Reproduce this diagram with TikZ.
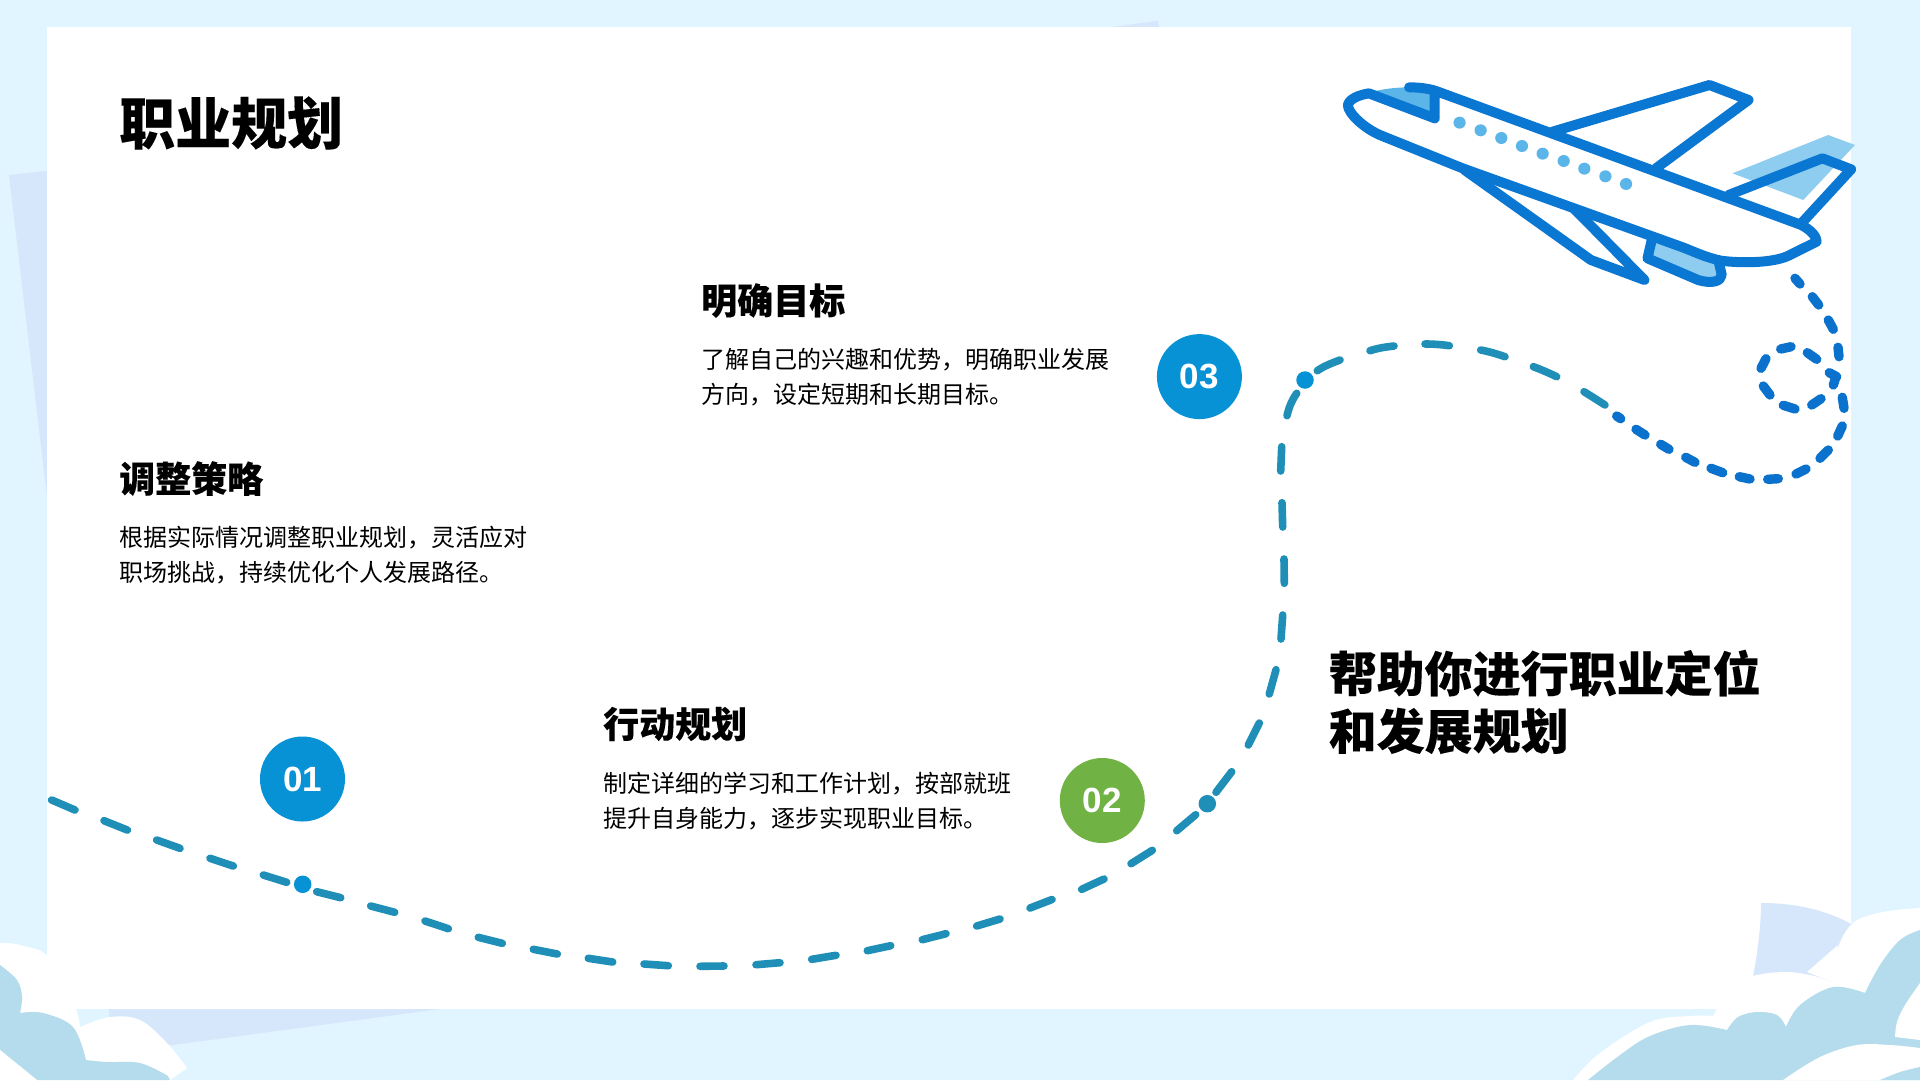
\documentclass[tikz,border=0pt]{standalone}
\usepackage{fontspec}
\setmainfont{Noto Sans CJK SC}[BoldFeatures={FakeBold=0.15}]
\newfontfamily\numfont{Liberation Sans}
\definecolor{pagebg}{HTML}{E0F5FF}
\definecolor{lav}{HTML}{D6E6FB}
\definecolor{cloudblue}{HTML}{B4DCEC}
\definecolor{teal}{HTML}{1F8FB8}
\definecolor{trailblue}{HTML}{0A72CC}
\definecolor{planeblue}{HTML}{0A77D3}
\definecolor{planelight}{HTML}{8FCDF0}
\definecolor{winblue}{HTML}{5BB5E8}
\definecolor{badgeblue}{HTML}{0892D6}
\definecolor{badgegreen}{HTML}{70B244}
\tikzset{
  badge/.style={circle,minimum size=85pt,inner sep=0pt,text=white,font=\numfont\bfseries\fontsize{35}{35}\selectfont},
  waydot/.style={circle,minimum size=17.5pt,inner sep=0pt},
  titletext/.style={anchor=west,inner sep=0pt,font=\bfseries\fontsize{56}{60}\selectfont},
  headtext/.style={anchor=west,inner sep=0pt,font=\bfseries\fontsize{36}{40}\selectfont},
  bodytext/.style={anchor=west,inner sep=0pt,align=left,font=\fontsize{24}{34.8}\selectfont},
  bigtext/.style={anchor=west,inner sep=0pt,align=left,font=\bfseries\fontsize{48}{57.5}\selectfont},
  tealdash/.style={draw=teal,line width=7.6pt,line cap=round},
  bluedash/.style={draw=trailblue,line width=9.4pt,line cap=round},
  planeline/.style={draw=planeblue,line width=10pt,line join=round,line cap=round}
}
\begin{document}
\begin{tikzpicture}[x=1pt,y=-1pt]
\useasboundingbox (0,0) rectangle (1920,1080);
\clip (0,0) rectangle (1920,1080);
\fill[pagebg] (0,0) rectangle (1920,1080);
% lavender sheets behind the card
\fill[lav] (9,175) -- (47,171) -- (47,497) -- cycle;
\fill[lav] (1112,27) -- (1158,20.7) -- (1159,27) -- cycle;
\fill[lav] (109,1009) -- (440,1009) -- (173,1045) -- (109,1045) -- cycle;
% card
\fill[white] (47,27) rectangle (1851,1009);
\fill[lav] (1761,903) .. controls (1800,903) and (1830,912) .. (1853,925) -- (1840,960) -- (1832,982) -- (1783,980) -- (1753,977) .. controls (1758,950) and (1761,925) .. cycle;
% right cloud
\fill[white] plot[smooth,tension=.6] coordinates {(1573,1080) (1600,1053) (1650,1022) (1690,1016) (1713,1016)}
  -- plot[smooth,tension=.6] coordinates {(1713,1016) (1727,993) (1750,977) (1783,972) (1810,975) (1832,982)}
  -- plot[smooth,tension=.6] coordinates {(1832,982) (1837,950) (1853,923) (1883,912) (1920,908)}
  -- (1920,1080) -- cycle;
\fill[white] (1807,972) -- (1838,945) -- (1832,982) -- cycle;
\fill[cloudblue] plot[smooth,tension=.6] coordinates {(1588,1080) (1620,1055) (1650,1036) (1690,1025) (1727,1030)}
  -- plot[smooth,tension=.6] coordinates {(1727,1030) (1738,1017) (1757,1012) (1777,1015) (1786,1027)}
  -- plot[smooth,tension=.6] coordinates {(1786,1027) (1800,1005) (1833,987) (1865,993)}
  -- plot[smooth,tension=.6] coordinates {(1865,993) (1880,965) (1900,940) (1920,930)}
  -- (1920,1080) -- cycle;
\fill[white] plot[smooth,tension=.6] coordinates {(1895,1037) (1897,1022) (1905,1005) (1920,983)} -- (1920,1040) -- cycle;
\fill[white] plot[smooth,tension=.6] coordinates {(1783,1080) (1820,1057) (1857,1045) (1890,1045) (1920,1048)} -- (1920,1080) -- cycle;
\fill[cloudblue] plot[smooth,tension=.6] coordinates {(1880,1080) (1900,1072) (1920,1067)} -- (1920,1080) -- cycle;
% left cloud
\fill[white] plot[smooth,tension=.6] coordinates {(0,943) (20,945) (50,958) (75,1007) (80,1027)}
  -- plot[smooth,tension=.6] coordinates {(80,1027) (110,1017) (140,1020) (167,1043) (187,1068)}
  -- (170,1080) -- (0,1080) -- cycle;
\fill[cloudblue] plot[smooth,tension=.6] coordinates {(0,965) (17,980) (22,997) (20,1013)}
  -- plot[smooth,tension=.6] coordinates {(20,1013) (43,1013) (73,1027) (86,1060)}
  -- plot[smooth,tension=.6] coordinates {(86,1060) (107,1062) (140,1063) (168,1076)}
  -- (170,1080) -- (37,1080) -- (0,1050) -- cycle;
\fill[white] (0,1050) -- (37,1080) -- (0,1080) -- cycle;
% plane
\begin{scope}[shift={(1300,50)},x=0.3827pt,y=-0.3333pt]
  \fill[planelight] (1130,370) -- (1380,255) -- (1450,285) -- (1315,450) -- cycle;
  \fill[white] (180,130) -- (285,112) .. controls (320,112) and (345,118) .. (365,127) -- (1310,525) .. controls (1335,540) and (1350,560) .. (1350,575) -- (1280,615) .. controls (1240,640) and (1150,640) .. (1100,632) .. controls (1060,622) and (1040,610) .. (1000,592) -- (425,355) -- (215,258) .. controls (170,238) and (125,190) .. (125,165) .. controls (130,145) and (155,135) .. cycle;
  \fill[winblue] (190,125) .. controls (220,116) and (255,112) .. (285,112) -- (352,130) -- (352,205) -- cycle;
  \fill[planelight] (918,575) -- (908,625) -- (1040,690) .. controls (1075,702) and (1100,695) .. (1102,675) -- (1094,635) -- cycle;
  \draw[planeline] (918,575) -- (908,625) -- (1040,690) .. controls (1075,702) and (1100,695) .. (1102,675) -- (1094,635);
  \draw[planeline] (430,360) -- (760,630) -- (900,690) -- (715,475);
  \draw[planeline] (660,245) -- (1070,105) -- (1172,150) -- (930,355);
  \draw[planeline] (1120,435) -- (1365,325) -- (1440,358) -- (1310,520);
  \draw[planeline] (285,112) .. controls (320,112) and (345,118) .. (365,127) -- (1310,525) .. controls (1335,540) and (1350,560) .. (1350,575) -- (1280,615) .. controls (1240,640) and (1150,640) .. (1100,632) .. controls (1060,622) and (1040,610) .. (1000,592) -- (425,355) -- (215,258) .. controls (170,238) and (125,190) .. (125,165) .. controls (130,145) and (155,135) .. (180,130) -- (352,205) -- (352,130);
  \foreach \wx/\wy in {417/218,472/241,526/264,580/288,634/311,689/333,743/356,798/379,852/402}
    \fill[winblue] (\wx,\wy) ellipse [x radius=16,y radius=18];
\end{scope}
% trail
\path[tealdash] (51.7,800) -- (75,810) (104,820.7) -- (127.3,830) (156.7,840) -- (180,848.3) (210,858.3) -- (233.3,866) (263.3,875) -- (286.7,882.3)
  (316.7,891.7) -- (340.7,897.7) (370.7,906) -- (394.7,912.3) (425,921) -- (448.3,928.7) (478.3,937.3) -- (502.3,943.3)
  (533.3,949.3) -- (557.3,954) (588.3,958.3) -- (612.7,962) (644,964) -- (668.3,965.7) (700,966.3) -- (724,966) (756,964.7) -- (780,962.7)
  (811.7,959.3) -- (836,955.3) (867.3,950.7) -- (890.7,945.7) (922.3,939.7) -- (946,933.7) (976.7,926) -- (1000,919) (1030,908) -- (1052,899.5)
  (1081.7,889.3) -- (1104,879) (1131,863.7) -- (1152.3,850.3) (1176.7,830.7) -- (1195.7,814.7) (1216,792.3) -- (1231.7,771.7) (1248.3,745) -- (1259.3,723)
  (1269.3,694) -- (1276,669.7) (1281,639) -- (1282.7,615) (1284.3,583.3) -- (1284,559) (1282.7,527) -- (1282,502.7) (1280.7,471) -- (1281.7,446.7)
  (1287,415.7) .. controls (1289,407) and (1292,400) .. (1296.7,393.3)
  (1317.3,370.7) .. controls (1324,366) and (1332,363) .. (1340,360)
  (1370,350.7) .. controls (1378,348) and (1386,347) .. (1394,346)
  (1425,344) .. controls (1433,344) and (1441,344.5) .. (1449.3,345.7)
  (1480.7,350) .. controls (1489,351.5) and (1497,354) .. (1505,356.7)
  (1533.3,366.7) .. controls (1541,369.5) and (1549,373) .. (1556.7,376.7)
  (1584,391.7) .. controls (1591,396) and (1598,400.5) .. (1605,405);
\path[bluedash] (1616.7,416) -- (1620.7,418.7) (1636,429.3) -- (1645,435) (1660.7,444.3) -- (1669,449.3) (1685.7,457.3) -- (1695,462.3)
  (1711,468.3) -- (1722.7,472.7) (1739.3,476.7) -- (1750,479) (1767.7,479.3) -- (1778.3,478.7) (1796,474) -- (1806,469) (1820,458.3) -- (1828.3,450)
  (1837.7,436) -- (1842.3,426) (1844,408.3) -- (1842.3,397.3) (1833.3,385) -- (1836,376.7) (1829.3,372.7) -- (1836.7,376.7) (1839,356.7) -- (1838,347.3)
  (1833.3,329.3) -- (1828.3,320) (1818.7,305) -- (1812.3,296.7) (1800,284) -- (1795,278.3)
  (1816.7,359.3) -- (1807.3,352.7) (1791,346.7) -- (1780.7,349) (1766,358.7) -- (1761,368.3) (1763.3,386) -- (1770,395) (1783.3,405.3) -- (1795,409) (1811.7,405) -- (1821,398.7);
% waypoints
\node[waydot,fill=badgeblue] (w1) at (302.7,884.3) {};
\node[waydot,fill=teal] (w2) at (1207.3,803.7) {};
\node[waydot,fill=badgeblue] (w3) at (1305,380) {};
% badges
\node[badge,fill=badgeblue] (b1) at (302.5,779) {01};
\node[badge,fill=badgegreen] (b2) at (1102.3,800.5) {02};
\node[badge,fill=badgeblue] (b3) at (1199.4,376.6) {03};
% texts
\node[titletext] (title) at (119,123) {职业规划};
\node[headtext] (h3) at (701,300.5) {明确目标};
\node[bodytext] (d3) at (701,377.5) {了解自己的兴趣和优势，明确职业发展\\方向，设定短期和长期目标。};
\node[headtext] (h4) at (119,478.5) {调整策略};
\node[bodytext] (d4) at (119,555) {根据实际情况调整职业规划，灵活应对\\职场挑战，持续优化个人发展路径。};
\node[headtext] (h2) at (603,724) {行动规划};
\node[bodytext] (d2) at (603,801) {制定详细的学习和工作计划，按部就班\\提升自身能力，逐步实现职业目标。};
\node[bigtext] (big) at (1328.5,702) {帮助你进行职业定位\\和发展规划};
\end{tikzpicture}
\end{document}
